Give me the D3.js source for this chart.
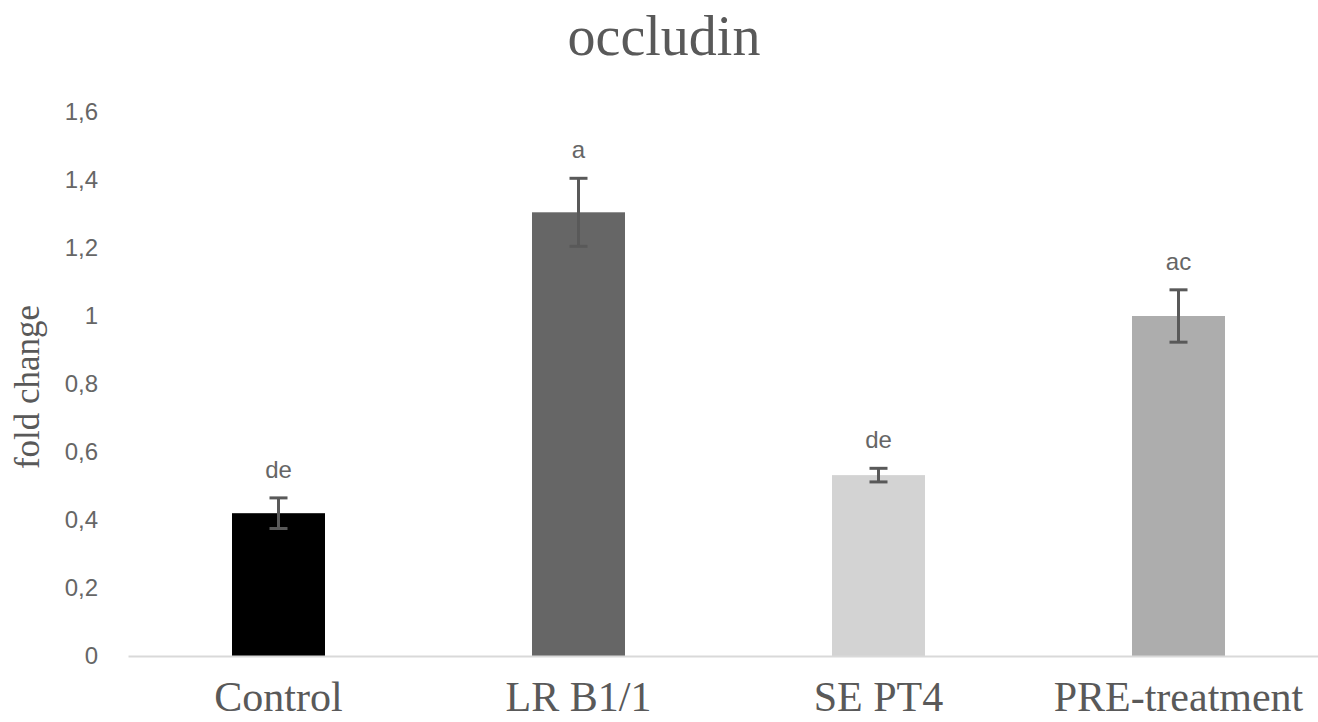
<!DOCTYPE html>
<html>
<head>
<meta charset="utf-8">
<script src="https://cdn.jsdelivr.net/npm/d3@7"></script>
<style>
  html, body { margin: 0; padding: 0; background: #ffffff; }
  svg { display: block; }
</style>
</head>
<body>
<svg id="chart" width="1318" height="722"></svg>
<script>
// Occludin expression (fold change), mean ± error per treatment group
const categories = ["Control", "LR B1/1", "SE PT4", "PRE-treatment"];
const means = [0.42, 1.305, 0.532, 1.0];
const errors = [0.045, 0.10, 0.02, 0.077];
const letters = ["de", "a", "de", "ac"];
const barColors = ["#000000", "#666666", "#d3d3d3", "#adadad"];
const yTicks = [0, 0.2, 0.4, 0.6, 0.8, 1.0, 1.2, 1.4, 1.6];

const W = 1318, H = 722;
const svg = d3.select("#chart");
const textGray = "#595959";

// Plot area: the category axis runs on past the right edge of the page
const x = d3.scaleBand()
  .domain(categories)
  .range([128.5, 1328.5])
  .paddingInner(0.69)
  .paddingOuter(0.345);

const y = d3.scaleLinear()
  .domain([0, 1.6])
  .range([656, 112]);

// Title
svg.append("text")
  .attr("x", 664)
  .attr("y", 55)
  .attr("text-anchor", "middle")
  .attr("font-family", "'Liberation Serif', 'Times New Roman', serif")
  .attr("font-size", 56)
  .attr("fill", textGray)
  .text("occludin");

// Y axis title
svg.append("text")
  .attr("transform", "translate(39,387) rotate(-90)")
  .attr("text-anchor", "middle")
  .attr("font-family", "'Liberation Serif', 'Times New Roman', serif")
  .attr("font-size", 35)
  .attr("fill", textGray)
  .text("fold change");

// Y axis tick labels (no axis line, comma decimal separator)
const commaFormat = d => {
  const s = d3.format("~g")(+d.toFixed(2));
  return s.replace(".", ",");
};
const yAxis = d3.axisLeft(y)
  .tickValues(yTicks)
  .tickFormat(commaFormat)
  .tickSize(0)
  .tickPadding(0);
const gy = svg.append("g")
  .attr("transform", "translate(98,0)")
  .call(yAxis);
gy.select(".domain").remove();
gy.selectAll("text")
  .attr("font-family", "'Liberation Sans', Arial, sans-serif")
  .attr("font-size", 24)
  .attr("fill", "#666666");

// Bars
svg.append("g")
  .selectAll("rect")
  .data(categories)
  .join("rect")
  .attr("x", d => x(d))
  .attr("y", (d, i) => y(means[i]))
  .attr("width", x.bandwidth())
  .attr("height", (d, i) => y(0) - y(means[i]))
  .attr("fill", (d, i) => barColors[i]);

// Category axis line
svg.append("line")
  .attr("x1", x.range()[0])
  .attr("x2", x.range()[1])
  .attr("y1", y(0) + 0.5)
  .attr("y2", y(0) + 0.5)
  .attr("stroke", "#d9d9d9")
  .attr("stroke-width", 2);

// Error bars
const capHalf = 9;
const eb = svg.append("g")
  .attr("stroke", "#595959")
  .attr("stroke-width", 3)
  .selectAll("g")
  .data(categories)
  .join("g");
eb.append("line")
  .attr("x1", d => x(d) + x.bandwidth() / 2)
  .attr("x2", d => x(d) + x.bandwidth() / 2)
  .attr("y1", (d, i) => y(means[i] - errors[i]))
  .attr("y2", (d, i) => y(means[i] + errors[i]));
eb.append("line")
  .attr("x1", d => x(d) + x.bandwidth() / 2 - capHalf)
  .attr("x2", d => x(d) + x.bandwidth() / 2 + capHalf)
  .attr("y1", (d, i) => y(means[i] + errors[i]))
  .attr("y2", (d, i) => y(means[i] + errors[i]));
eb.append("line")
  .attr("x1", d => x(d) + x.bandwidth() / 2 - capHalf)
  .attr("x2", d => x(d) + x.bandwidth() / 2 + capHalf)
  .attr("y1", (d, i) => y(means[i] - errors[i]))
  .attr("y2", (d, i) => y(means[i] - errors[i]));

// Significance letters above the error bars
svg.append("g")
  .selectAll("text")
  .data(categories)
  .join("text")
  .attr("x", d => x(d) + x.bandwidth() / 2)
  .attr("y", (d, i) => y(means[i] + errors[i]) - 20)
  .attr("text-anchor", "middle")
  .attr("font-family", "'Liberation Sans', Arial, sans-serif")
  .attr("font-size", 24)
  .attr("fill", "#666666")
  .text((d, i) => letters[i]);

// Category labels, kept inside the page on the right
const xl = svg.append("g")
  .selectAll("text")
  .data(categories)
  .join("text")
  .attr("x", d => x(d) + x.bandwidth() / 2)
  .attr("y", 711)
  .attr("text-anchor", "middle")
  .attr("font-family", "'Liberation Serif', 'Times New Roman', serif")
  .attr("font-size", 42)
  .attr("fill", textGray)
  .text(d => d);
xl.each(function () {
  const b = this.getBBox();
  const over = b.x + b.width - (W - 6);
  if (over > 0) d3.select(this).attr("x", +d3.select(this).attr("x") - over);
});
</script>
</body>
</html>
